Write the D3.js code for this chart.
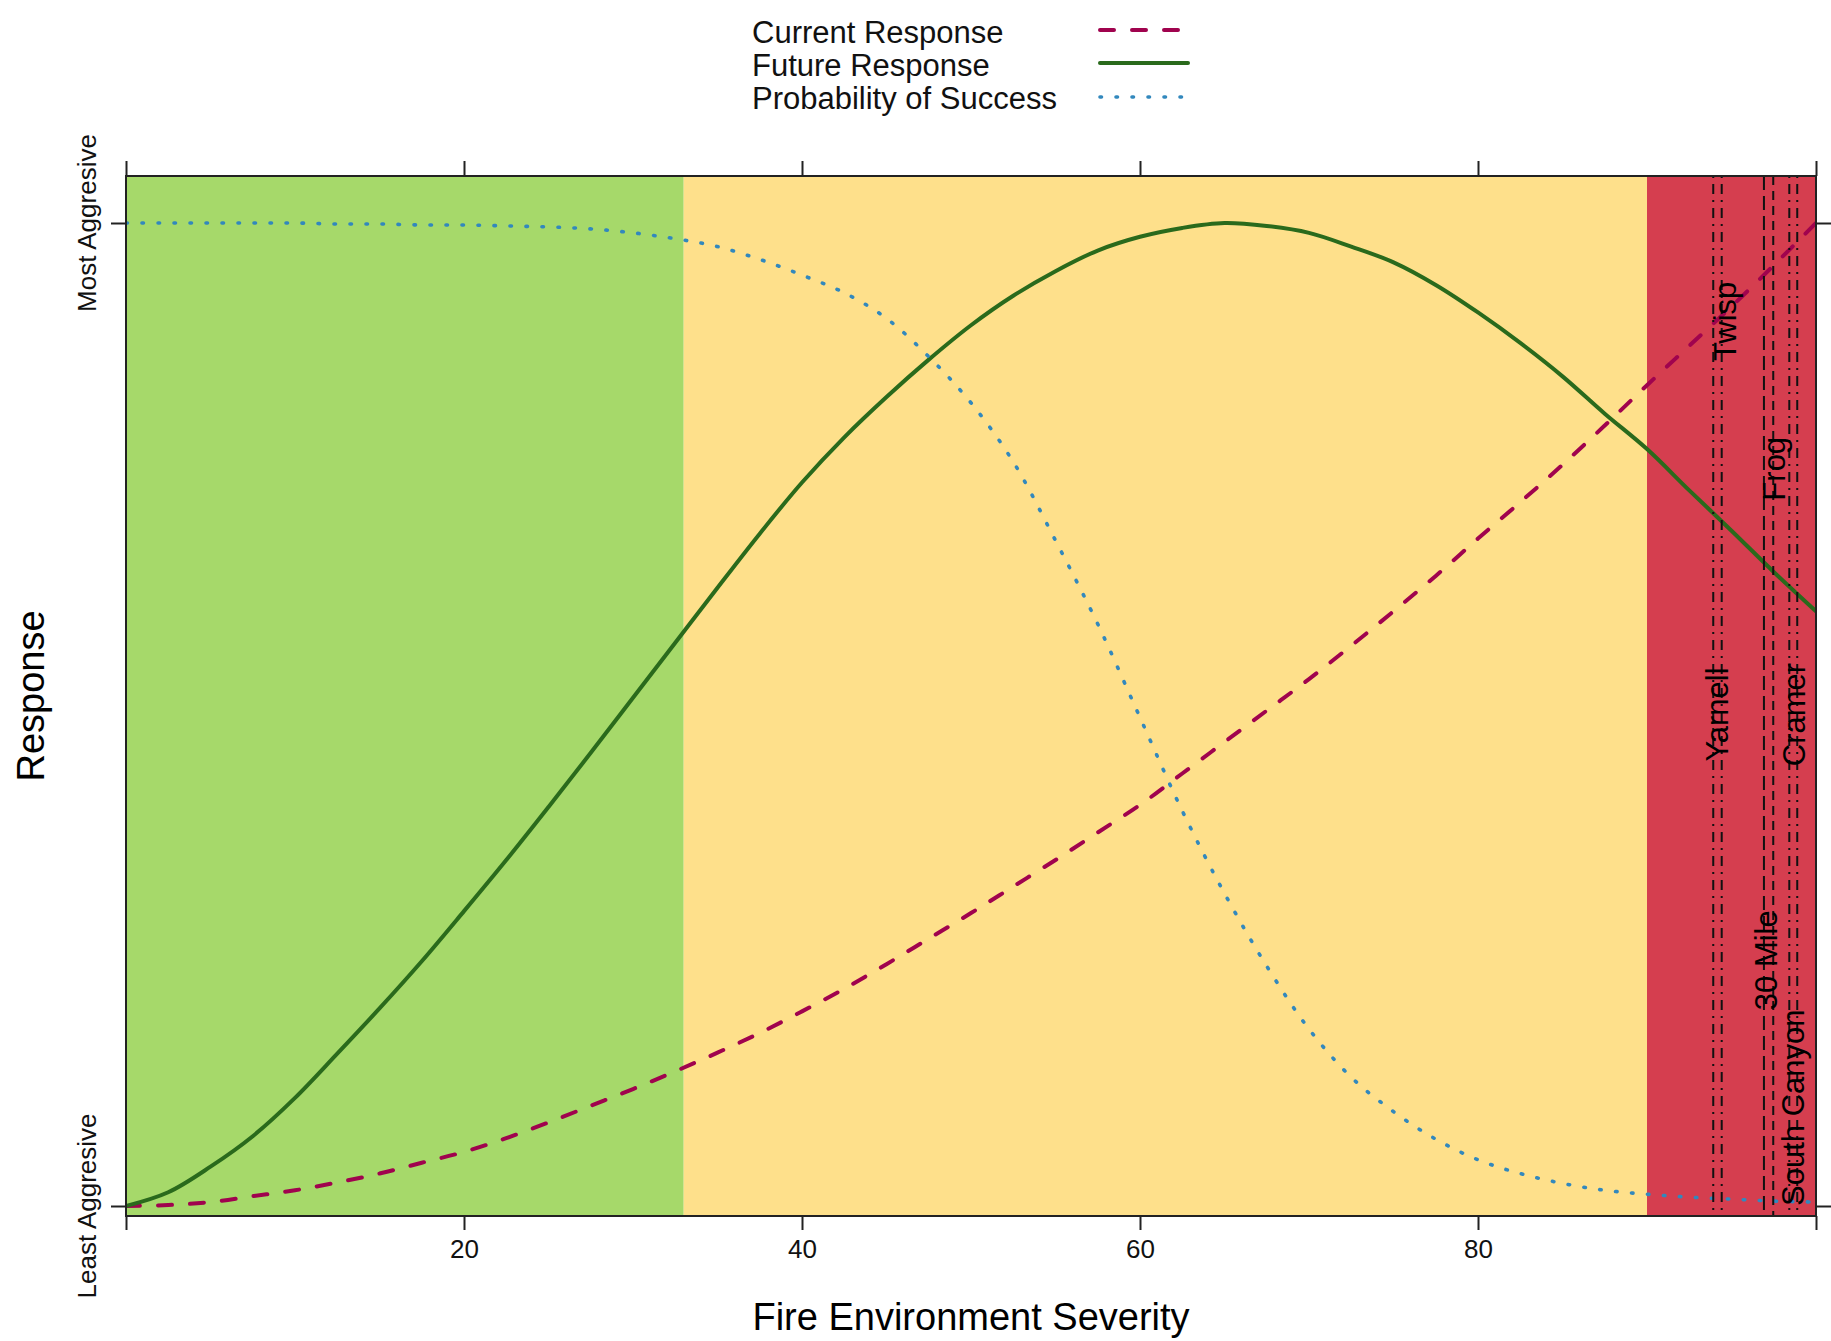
<!DOCTYPE html>
<html>
<head>
<meta charset="utf-8">
<script src="https://cdn.jsdelivr.net/npm/d3@7"></script>
<style>
  html, body { margin: 0; padding: 0; background: #ffffff; }
  svg { display: block; font-family: "Liberation Sans", Arial, sans-serif; }
</style>
</head>
<body>
<svg id="chart" width="1831" height="1341"></svg>
<script>
// ---------------- DATA ----------------
const severity = [0, 2.5, 5, 7.5, 10, 12.5, 15, 17.5, 20, 22.5, 25, 27.5, 30, 32.5, 35, 37.5, 40, 42.5, 45, 47.5, 50,
  52.5, 55, 57.5, 60, 62.5, 65, 67.5, 70, 72.5, 75, 77.5, 80, 82.5, 85, 87.5, 90, 92.5, 95, 97.5, 100];

const currentResponse = [0, 0.001, 0.004, 0.010, 0.016, 0.024, 0.033, 0.044, 0.055, 0.069, 0.085, 0.102, 0.119, 0.137,
  0.156, 0.176, 0.198, 0.221, 0.246, 0.272, 0.298, 0.325, 0.352, 0.380, 0.408, 0.440, 0.472, 0.504, 0.536, 0.570,
  0.605, 0.641, 0.679, 0.716, 0.754, 0.794, 0.835, 0.875, 0.915, 0.957, 1.0];

const futureResponse = [0, 0.014, 0.040, 0.071, 0.110, 0.155, 0.201, 0.249, 0.300, 0.352, 0.406, 0.461, 0.517, 0.573,
  0.629, 0.684, 0.736, 0.782, 0.823, 0.861, 0.896, 0.926, 0.951, 0.972, 0.986, 0.995, 1.0, 0.997, 0.990, 0.976,
  0.960, 0.937, 0.909, 0.878, 0.844, 0.806, 0.770, 0.728, 0.687, 0.645, 0.605];

const probSuccess = [1.0, 1.0, 1.0, 1.0, 1.0, 0.999, 0.999, 0.998, 0.998, 0.997, 0.996, 0.994, 0.990, 0.984, 0.976,
  0.963, 0.947, 0.929, 0.903, 0.864, 0.817, 0.757, 0.677, 0.592, 0.497, 0.402, 0.318, 0.244, 0.180, 0.131, 0.096,
  0.068, 0.047, 0.033, 0.023, 0.016, 0.012, 0.009, 0.007, 0.005, 0.004];

// severity zones: [start, end]
const zoneStarts = [0, 33, 90];
const zoneEnds = [33, 90, 100];
const zoneColors = ["#A6D96A", "#FEE08B", "#D53E4F"];

// reference fires: vertical lines
const fireLineSeverity = [93.92, 94.42, 96.92, 97.47, 98.42, 98.89];
const fireLineStyle = ["dotdash", "dotdash", "longdash", "dashed", "dotdash", "dotdash"];

// fire labels: name, severity position, response level
const fireNames = ["Yarnell", "Twisp", "30 Mile", "Frog", "Cramer", "South Canyon"];
const fireLabelX = [94.17, 94.62, 97.10, 97.57, 98.70, 98.67];
const fireLabelY = [0.5, 0.9, 0.25, 0.75, 0.5, 0.1];

const xTicks = [0, 20, 40, 60, 80, 100];
const xTickLabels = ["", "20", "40", "60", "80", ""];
const yTicks = [0, 1];
const yTickLabels = ["Least Aggresive", "Most Aggresive"];

const seriesNames = ["Current Response", "Future Response", "Probability of Success"];
const seriesColors = ["#A0034E", "#2A6A1C", "#3288BD"];

// ---------------- LAYOUT ----------------
const svg = d3.select("#chart");
const plot = { left: 126, right: 1816, top: 176, bottom: 1216 };
const x = d3.scaleLinear().domain([0, 100]).range([plot.left, plot.right]);
const y = d3.scaleLinear().domain([0, 1]).range([1206, 223]);

const dashStyles = {
  dashed:   { dash: "14,18", width: 4, cap: "round" },
  solid:    { dash: null, width: 4, cap: "round" },
  dotted:   { dash: "1.5,14.5", width: 3.6, cap: "round" },
};
const seriesStyles = [dashStyles.dashed, dashStyles.solid, dashStyles.dotted];
const refDash = { dotdash: "2,6,10,6", longdash: "14,6", dashed: "9,6", twodash: "4,4,12,4" };

svg.append("defs").append("clipPath").attr("id", "clip")
  .append("rect").attr("x", plot.left).attr("y", plot.top)
  .attr("width", plot.right - plot.left).attr("height", plot.bottom - plot.top);

// zones
svg.append("g").selectAll("rect").data(zoneStarts).join("rect")
  .attr("x", (d) => x(d))
  .attr("width", (d, i) => x(zoneEnds[i]) - x(d))
  .attr("y", plot.top).attr("height", plot.bottom - plot.top)
  .attr("fill", (d, i) => zoneColors[i]);

// curves
const series = [currentResponse, futureResponse, probSuccess];
const line = d3.line().x((d) => x(d[0])).y((d) => y(d[1])).curve(d3.curveCatmullRom.alpha(0.5));
const gCurves = svg.append("g").attr("clip-path", "url(#clip)");
series.forEach((vals, i) => {
  const pts = severity.map((s, k) => [s, vals[k]]);
  const st = seriesStyles[i];
  gCurves.append("path").datum(pts)
    .attr("d", line)
    .attr("fill", "none")
    .attr("stroke", seriesColors[i])
    .attr("stroke-width", st.width)
    .attr("stroke-linecap", st.cap)
    .attr("stroke-linejoin", "round")
    .attr("stroke-dasharray", st.dash);
});

// fire reference lines
svg.append("g").selectAll("line").data(fireLineSeverity).join("line")
  .attr("x1", (d) => x(d)).attr("x2", (d) => x(d))
  .attr("y1", plot.top).attr("y2", plot.bottom)
  .attr("stroke", "#111").attr("stroke-width", 2)
  .attr("stroke-dasharray", (d, i) => refDash[fireLineStyle[i]]);

// fire labels
svg.append("g").selectAll("text").data(fireNames).join("text")
  .attr("transform", (d, i) => `translate(${x(fireLabelX[i])},${y(fireLabelY[i])}) rotate(-90)`)
  .attr("text-anchor", "middle")
  .attr("dominant-baseline", "central")
  .attr("font-size", 31)
  .attr("fill", "#000")
  .text((d) => d);

// border
svg.append("rect")
  .attr("x", plot.left).attr("y", plot.top)
  .attr("width", plot.right - plot.left).attr("height", plot.bottom - plot.top)
  .attr("fill", "none").attr("stroke", "#222").attr("stroke-width", 2);

// axes
const axisColor = "#222";
const xAxisBottom = d3.axisBottom(x).tickValues(xTicks).tickSize(14).tickPadding(10)
  .tickFormat((d, i) => xTickLabels[i]);
const gxb = svg.append("g").attr("transform", `translate(0,${plot.bottom})`).call(xAxisBottom);
const xAxisTop = d3.axisTop(x).tickValues(xTicks).tickSize(15).tickFormat(() => "");
const gxt = svg.append("g").attr("transform", `translate(0,${plot.top})`).call(xAxisTop);
const yAxisLeft = d3.axisLeft(y).tickValues(yTicks).tickSize(15).tickFormat(() => "");
const gyl = svg.append("g").attr("transform", `translate(${plot.left},0)`).call(yAxisLeft);
const yAxisRight = d3.axisRight(y).tickValues(yTicks).tickSize(15).tickFormat(() => "");
const gyr = svg.append("g").attr("transform", `translate(${plot.right},0)`).call(yAxisRight);
[gxb, gxt, gyl, gyr].forEach((g) => {
  g.select(".domain").remove();
  g.selectAll(".tick line").attr("stroke", axisColor).attr("stroke-width", 2);
});
gxb.selectAll(".tick text").attr("font-size", 26).attr("fill", "#111")
  .attr("font-family", '"Liberation Sans", Arial, sans-serif');

// y tick labels (rotated)
svg.append("g").selectAll("text").data(yTicks).join("text")
  .attr("transform", (d) => `translate(96,${y(d)}) rotate(-90)`)
  .attr("text-anchor", "middle")
  .attr("font-size", 26).attr("fill", "#111")
  .text((d, i) => yTickLabels[i]);

// axis titles
svg.append("text").attr("x", (plot.left + plot.right) / 2).attr("y", 1330)
  .attr("text-anchor", "middle").attr("font-size", 38).attr("fill", "#000")
  .text("Fire Environment Severity");
svg.append("text")
  .attr("transform", `translate(44,${(plot.top + plot.bottom) / 2}) rotate(-90)`)
  .attr("text-anchor", "middle").attr("font-size", 38).attr("fill", "#000")
  .text("Response");

// legend
const legendTextX = 752;
const legendBaselines = [43, 76, 109];
const legendLineY = [30, 63, 97];
const gLeg = svg.append("g");
seriesNames.forEach((name, i) => {
  gLeg.append("text").attr("x", legendTextX).attr("y", legendBaselines[i])
    .attr("font-size", 31).attr("fill", "#111").text(name);
  const st = seriesStyles[i];
  gLeg.append("line")
    .attr("x1", 1100).attr("x2", 1188)
    .attr("y1", legendLineY[i]).attr("y2", legendLineY[i])
    .attr("stroke", seriesColors[i]).attr("stroke-width", st.width)
    .attr("stroke-linecap", st.cap)
    .attr("stroke-dasharray", st.dash);
});
</script>
</body>
</html>
